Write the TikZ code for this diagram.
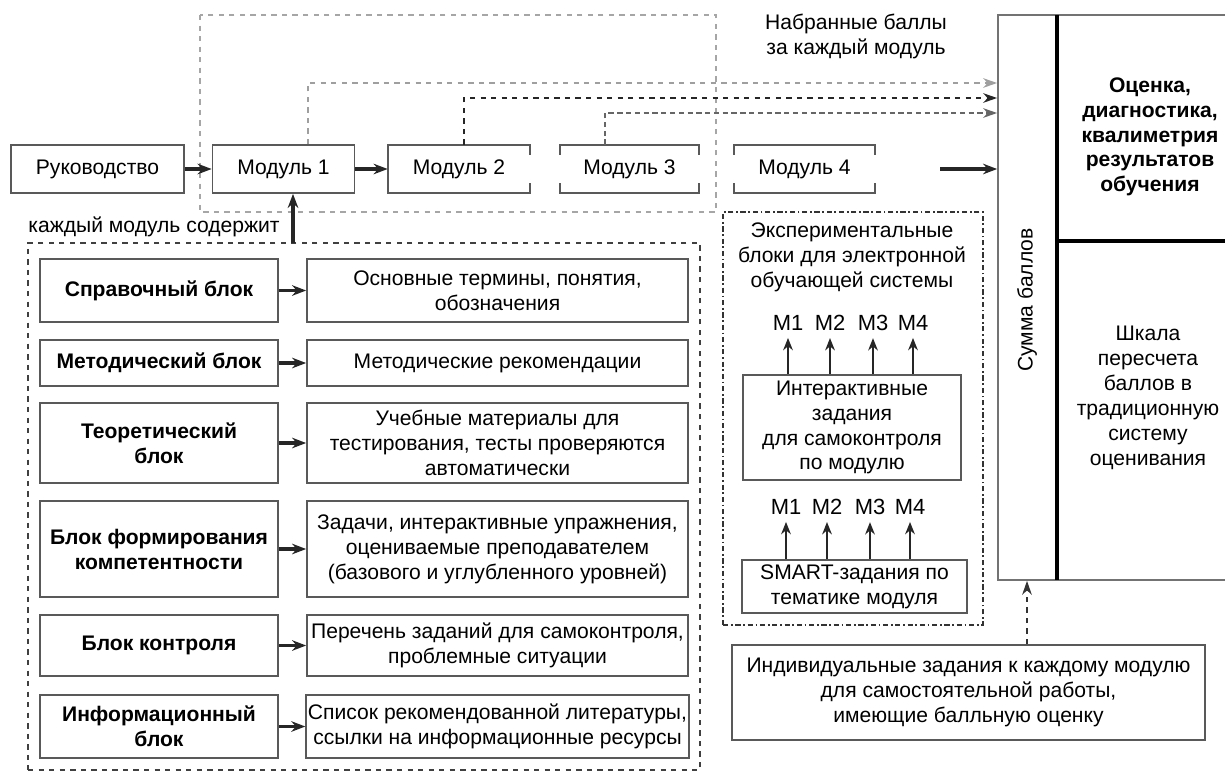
\documentclass[tikz,border=0pt]{standalone}
\usepackage{fontspec}
\setmainfont{Liberation Sans}
\usepackage{xcolor}
\usepackage{tikz}
\usetikzlibrary{arrows.meta}

\tikzset{
  blk/.style={draw=black!65, line width=1pt, align=center, inner sep=1pt},
  lblk/.style={blk, font=\fontsize{12}{14.2}\selectfont\bfseries, minimum width=4.76cm},
  rblk/.style={blk, minimum width=7.62cm},
  feed/.style={-{Stealth[length=8pt,width=6pt]}, line width=2pt, black!85},
  upar/.style={-{Stealth[length=7pt,width=5.5pt]}, line width=1.5pt, black!85, shorten >=3pt},
  pts/.style={-{Stealth[length=8pt,width=5.5pt]}, dashed, line width=1pt},
  mlab/.style={inner sep=1pt, font=\fontsize{12.5}{14.2}\selectfont}
}

\begin{document}
\begin{tikzpicture}[x=0.02cm,y=-0.02cm,font=\fontsize{12}{14.2}\selectfont]
\useasboundingbox (0,0) rectangle (1225,772);

\draw [gray!70, dashed, line width=0.8pt] (200,15) rectangle (716,212);

\node (ruk) at (97.5,169) [blk, minimum width=3.46cm, minimum height=0.96cm] {Руководство};
\node (mod1) at (283.5,169) [blk, minimum width=2.84cm, minimum height=0.96cm] {Модуль 1};
\node (mod2) at (459,169) [minimum width=2.84cm, minimum height=0.96cm] {Модуль 2};
\node (mod3) at (629.5,169) [minimum width=2.78cm, minimum height=0.96cm] {Модуль 3};
\node (mod4) at (804.5,169) [minimum width=2.82cm, minimum height=0.96cm] {Модуль 4};

\draw [black!65, line width=1pt] (mod2.north east) ++(0,10) -- (mod2.north east) -- (mod2.north west) -- (mod2.south west) -- (mod2.south east) -- ++(0,-10);
\draw [black!65, line width=1pt] (mod3.north west) ++(0,10) -- (mod3.north west) -- (mod3.north east) -- ++(0,10);
\draw [black!65, line width=1pt] (mod3.south west) ++(0,-10) -- (mod3.south west) -- (mod3.south east) -- ++(0,-10);
\draw [black!65, line width=1pt] (mod4.north west) ++(0,10) -- (mod4.north west) -- (mod4.north east) -- ++(0,10);
\draw [black!65, line width=1pt] (mod4.south west) ++(0,-10) -- (mod4.south west) -- (mod4.south east) -- ++(0,-10);

\draw [feed] (ruk) -- (mod1);
\draw [feed] (mod1) -- (mod2);

\node (nabr) at (856,36) [align=center] {Набранные баллы\\за каждый модуль};

\node (sumbox) at (1119,297.5) [draw=black!55, line width=1pt, minimum width=4.84cm, minimum height=11.3cm] {};
\draw [line width=1.8pt] (1057,15) -- (1057,580);
\draw [line width=1.8pt] (1057,241) -- (1230,241);
\node (summa) at (1027,300) [rotate=90] {Сумма баллов};
\node (ocenka) at (1150,137) [align=center, font=\fontsize{12}{14}\selectfont\bfseries] {Оценка,\\диагностика,\\квалиметрия\\результатов\\обучения};
\node (shkala) at (1148,398) [align=center] {Шкала\\пересчета\\баллов в\\традиционную\\систему\\оценивания};

\coordinate (up1) at (308,83);
\coordinate (up2) at (464,98);
\coordinate (up3) at (605,113);
\coordinate (m4out) at (940,169);
\draw [pts, gray!75] (mod1.north -| up1) |- (sumbox.west |- up1);
\draw [pts, black!85] (mod2.north -| up2) |- (sumbox.west |- up2);
\draw [pts, black!60, dash pattern=on 3pt off 2pt] (mod3.north -| up3) |- (sumbox.west |- up3);
\draw [feed] (m4out) -- (m4out -| sumbox.west);

\node (kazhd) at (154,227) {каждый модуль содержит};
\node (sostav) at (364,506.5) [draw=black!75, dashed, line width=0.8pt, minimum width=13.44cm, minimum height=10.54cm] {};
\coordinate (in1) at (293,243);
\draw [feed] (in1) -- (in1 |- mod1.south);

\node (sprav) at (159,290.5) [lblk, minimum height=1.26cm] {Справочный блок};
\node (sprav2) at (497.5,290.5) [rblk, minimum height=1.26cm] {Основные термины, понятия,\\обозначения};
\draw [feed] (sprav) -- (sprav2);

\node (metod) at (159,363) [lblk, minimum height=0.92cm] {Методический блок};
\node (metod2) at (497.5,363) [rblk, minimum height=0.92cm] {Методические рекомендации};
\draw [feed] (metod) -- (metod2);

\node (teor) at (159,443) [lblk, minimum height=1.6cm] {Теоретический\\блок};
\node (teor2) at (497.5,443) [rblk, minimum height=1.6cm] {Учебные материалы для\\тестирования, тесты проверяются\\автоматически};
\draw [feed] (teor) -- (teor2);

\node (komp) at (159,549) [lblk, minimum height=1.92cm] {Блок формирования\\компетентности};
\node (komp2) at (497.5,549) [rblk, minimum height=1.92cm] {Задачи, интерактивные упражнения,\\оцениваемые преподавателем\\(базового и углубленного уровней)};
\draw [feed] (komp) -- (komp2);

\node (kontr) at (159,645.5) [lblk, minimum height=1.22cm] {Блок контроля};
\node (kontr2) at (497.5,645.5) [rblk, minimum height=1.22cm] {Перечень заданий для самоконтроля,\\проблемные ситуации};
\draw [feed] (kontr) -- (kontr2);

\node (inform) at (159,726.5) [lblk, minimum height=1.26cm] {Информационный\\блок};
\node (inform2) at (497.5,726.5) [rblk, minimum height=1.26cm] {Список рекомендованной литературы,\\ссылки на информационные ресурсы};
\draw [feed] (inform) -- (inform2);

\node (eksp) at (853,418.5) [draw=black!80, line width=0.8pt, dash pattern=on 3pt off 1.5pt on 1pt off 1.5pt, minimum width=5.2cm, minimum height=8.26cm] {};
\node (ekspt) at (852,257) [align=center] {Экспериментальные\\блоки для электронной\\обучающей системы};

\node (inter) at (852,427.5) [blk, minimum width=4.36cm, minimum height=2.1cm] {Интерактивные\\задания\\для самоконтроля\\по модулю};
\node (a1) at (788,323) [mlab] {М1};
\node (a2) at (830,323) [mlab] {М2};
\node (a3) at (873,323) [mlab] {М3};
\node (a4) at (913,323) [mlab] {М4};
\draw [upar] (a1 |- inter.north) -- (a1);
\draw [upar] (a2 |- inter.north) -- (a2);
\draw [upar] (a3 |- inter.north) -- (a3);
\draw [upar] (a4 |- inter.north) -- (a4);

\node (smart) at (854.5,586.5) [blk, minimum width=4.5cm, minimum height=1.06cm] {SMART-задания по\\тематике модуля};
\node (b1) at (786,507) [mlab] {М1};
\node (b2) at (827,507) [mlab] {М2};
\node (b3) at (870,507) [mlab] {М3};
\node (b4) at (910,507) [mlab] {М4};
\draw [upar] (b1 |- smart.north) -- (b1);
\draw [upar] (b2 |- smart.north) -- (b2);
\draw [upar] (b3 |- smart.north) -- (b3);
\draw [upar] (b4 |- smart.north) -- (b4);

\node (indiv) at (968.5,692.5) [blk, minimum width=9.46cm, minimum height=1.9cm] {Индивидуальные задания к каждому модулю\\для самостоятельной работы,\\имеющие балльную оценку};
\draw [pts, black!80] (indiv.north -| summa) -- (sumbox.south -| summa);
\end{tikzpicture}
\end{document}
